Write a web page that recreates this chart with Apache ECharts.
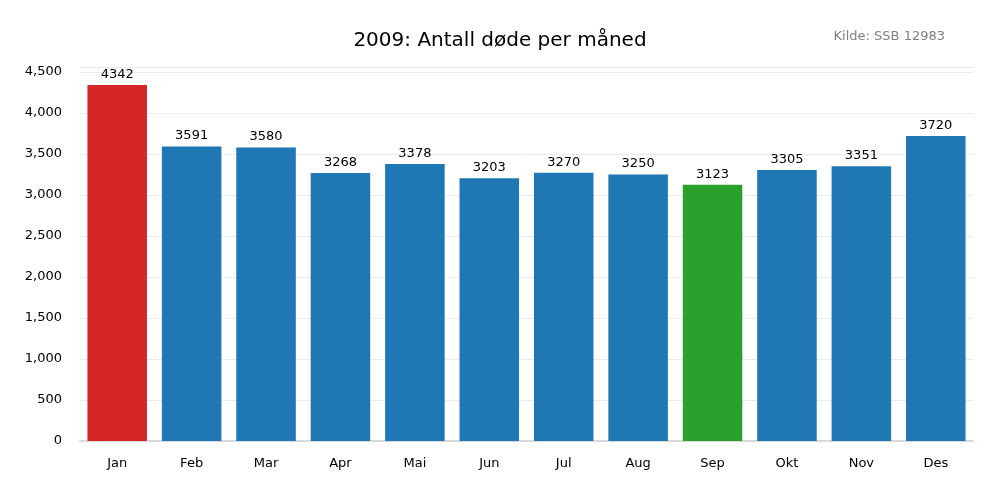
<!DOCTYPE html>
<html><head><meta charset="utf-8">
<script src="https://cdn.jsdelivr.net/npm/echarts@6/dist/echarts.min.js"></script>
<style>html,body{margin:0;padding:0;background:#fff}#c{width:1000px;height:500px}</style>
</head><body><div id="c"></div>
<script>
const months = ["Jan","Feb","Mar","Apr","Mai","Jun","Jul","Aug","Sep","Okt","Nov","Des"];
const deaths = [4342,3591,3580,3268,3378,3203,3270,3250,3123,3305,3351,3720];
const colors = ["#d62728","#1f77b4","#1f77b4","#1f77b4","#1f77b4","#1f77b4","#1f77b4","#1f77b4","#2ca02c","#1f77b4","#1f77b4","#1f77b4"];
const chart = echarts.init(document.getElementById('c'));
chart.setOption({
  animation:false,
  textStyle:{fontFamily:'DejaVu Sans'},
  title:[
    {text:'2009: Antall døde per måned',left:'center',top:26,textStyle:{fontSize:20,fontWeight:'normal',color:'#000',fontFamily:'DejaVu Sans'}},
    {text:'Kilde: SSB 12983',right:50,top:25,textStyle:{fontSize:13,fontWeight:'normal',color:'#808080',fontFamily:'DejaVu Sans'}}
  ],
  grid:{left:80,right:27,top:67,bottom:59},
  xAxis:{type:'category',data:months,axisTick:{show:false},
    axisLine:{lineStyle:{color:'#d9d9d9',width:2}},
    axisLabel:{color:'#000',fontSize:13,margin:16}},
  yAxis:{type:'value',min:0,max:4560,interval:500,
    axisLabel:{color:'#000',fontSize:13,margin:18,showMaxLabel:false},
    axisLine:{show:false},axisTick:{show:false},
    splitLine:{lineStyle:{color:'#ebebeb'}}},
  series:[{type:'bar',barCategoryGap:'20%',
    data:deaths.map((v,i)=>({value:v,itemStyle:{color:colors[i]}})),
    label:{show:true,position:'top',color:'#000',fontSize:13,distance:4}}]
});
</script></body></html>
